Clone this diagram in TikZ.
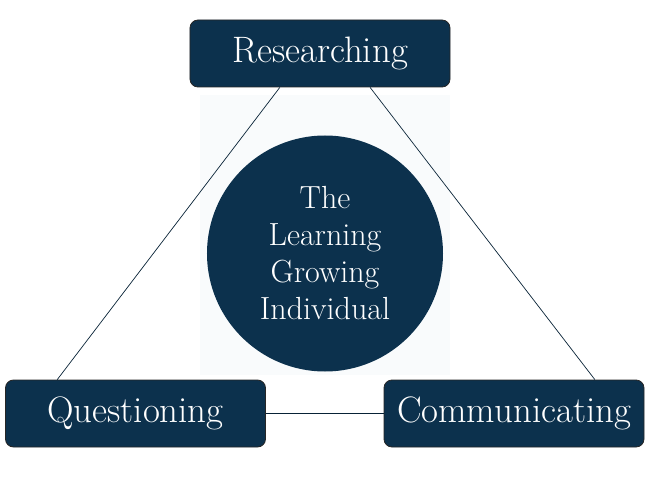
\documentclass[tikz,border=0pt]{standalone}
\usepackage{tikz}
\usetikzlibrary{positioning, calc}

\definecolor{navy}{RGB}{12,49,77}
\definecolor{haze}{RGB}{249,251,252}

\begin{document}
\begin{tikzpicture}[x=1pt, y=1pt, on grid,
        skill/.style={draw=black!85, line width=0.8pt, fill=navy, rounded corners=8pt,
            minimum width=260pt, minimum height=67pt, text=white,
            font=\fontsize{36.8}{44}\selectfont},
        core/.style={circle, fill=navy, minimum size=236pt, inner sep=0pt, text=white,
            align=center, font=\fontsize{32}{37}\selectfont},
        link/.style={draw=navy!70!black, line width=0.7pt}]
        \useasboundingbox (-320,53.5) rectangle (330,-430.5);
        \fill[haze] (-120,-41.5) rectangle (130,-321.5);

        \node[skill] (res) {Researching};
        \node[core] (self) [below right=200pt and 5pt of res] {The\\Learning\\Growing\\Individual};
        \node[skill] (que) [below left=360pt and 184.5pt of res] {Questioning};
        \node[skill] (com) [below right=360pt and 194pt of res] {Communicating};

        \draw[link] ($(res.south west)!0.346!(res.south east)$) -- ($(que.north west)!0.2!(que.north east)$);
        \draw[link] ($(res.south west)!0.692!(res.south east)$) -- ($(com.north west)!0.81!(com.north east)$);
        \draw[link] (que.east) -- (com.west);
    \end{tikzpicture}
\end{document}
